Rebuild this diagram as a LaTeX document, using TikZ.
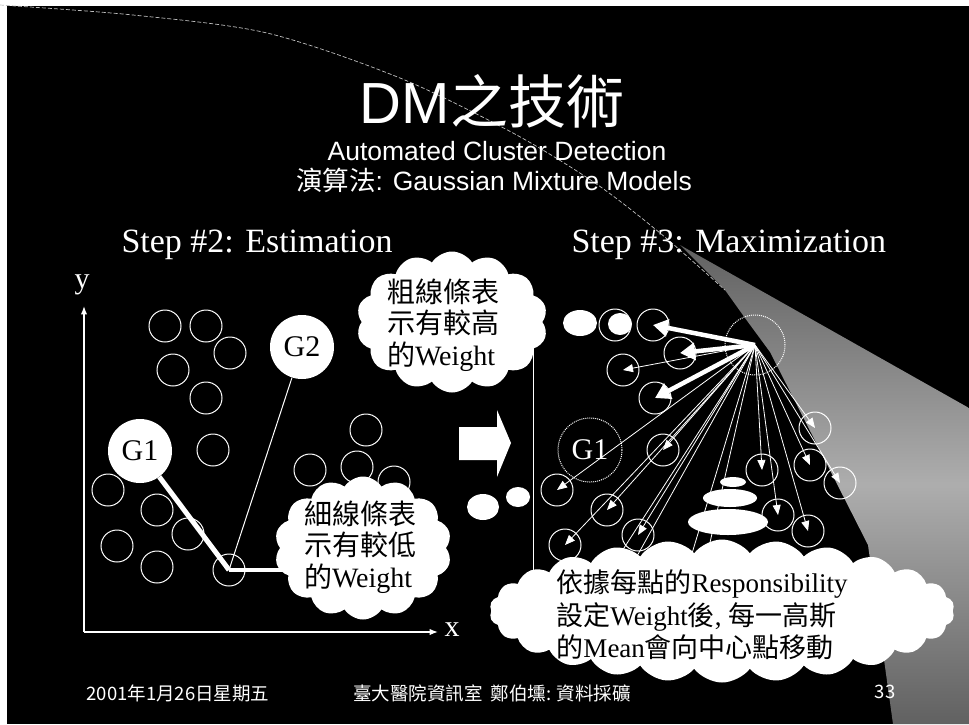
\documentclass[tikz,border=0pt]{standalone}
\usepackage{fontspec}
\setmainfont{Liberation Serif}
\newfontfamily\cjk{Noto Sans CJK TC}
\newfontfamily\arial{Liberation Sans}
\usetikzlibrary{arrows.meta,shapes.symbols}

\tikzset{
    datapt/.style={circle,draw=white,line width=1pt,minimum size=32pt,inner sep=0pt},
    gauss/.style={circle,fill=white,minimum size=64pt,inner sep=0pt,
        font=\fontsize{30}{30}\selectfont},
    bubble/.style={cloud,cloud puffs=14,cloud puff arc=115,cloud ignores aspect,
        fill=white,inner sep=0pt},
    bubbletext/.style={align=left,text=black,inner sep=0pt,
        font=\fontsize{28}{31.5}\selectfont},
    heavyarrow/.style={white,line width=4.5pt,-{Triangle[length=15pt,width=17pt]}},
    lightarrow/.style={white,line width=0.8pt,-{Triangle[length=10pt,width=8pt]}},
    footer/.style={white,font=\cjk\fontsize{18.5}{18.5}\selectfont}
}

\begin{document}
\begin{tikzpicture}[x=1pt,y=-1pt,>=Latex]

        % Slide frame
        \useasboundingbox (0,0) rectangle (969,724);
        \fill[white] (0,0) rectangle (969,724);
        \fill[black] (7,6) rectangle (969,724);

        % Light beam of the template
        \begin{scope}
            \clip (680,245) -- (969,408) -- (969,724) -- (893,724)
                -- (868,545) -- (770,352) -- (745,318) -- (725,290) -- cycle;
            \shade[top color=black!62,bottom color=black!62,middle color=black!32]
                (680,245) rectangle (969,724);
        \end{scope}
        \draw[black!25,line width=0.7pt,dash pattern=on 4pt off 2pt]
            plot[smooth] coordinates {(0,5) (133,15) (267,33) (400,78)
                (513,133) (595,183) (660,233) (725,290)};

        % Titles
        \node[white,anchor=base,font=\arial\fontsize{58}{58}\selectfont] (title)
            at (492,123) {DM{\cjk 之技術}};
        \node[white,anchor=base,font=\arial\fontsize{26.5}{26.5}\selectfont] (sub1)
            at (497,160) {Automated Cluster Detection};
        \node[white,anchor=base,font=\arial\fontsize{26.5}{26.5}\selectfont] (sub2)
            at (494,190) {{\cjk 演算法}: Gaussian Mixture Models};
        \node[white,anchor=base west,font=\fontsize{34}{34}\selectfont] (step2)
            at (118,252) {Step \#2: Estimation};
        \node[white,anchor=base west,font=\fontsize{34}{34}\selectfont] (step3)
            at (568,252) {Step \#3: Maximization};

        % Axes of the estimation plot
        \draw[white,line width=1.2pt,->] (84,632) -- (84,306);
        \draw[white,line width=1.2pt,->] (84,632) -- (438,632);
        \node[white,font=\fontsize{30}{30}\selectfont] (ylab) at (82,285) {y};
        \node[white,font=\fontsize{30}{30}\selectfont] (xlab) at (452,630) {x};

        % Data points (estimation)
        \foreach \x/\y [count=\i] in {165/326,206/326,230/353,173/370,206/398,
                213/450,108/490,157/510,188/534,117/546,157/567,310/470,
                366/430,357/467,394/482,229/570} {
            \node[datapt] (a\i) at (\x,\y) {};
        }

        % Gaussians
        \node[gauss] (g1) at (140,451) {G1};
        \node[gauss] (g2) at (302,347) {G2};

        % Weights of one point
        \draw[white,line width=5pt] (g1) -- (a16.center);
        \draw[white,line width=1pt] (g2) -- (a16.center);
        \draw[white,line width=4pt] (a16.center) -- (a16.center -| 362,0);

        % Axis of the maximization plot
        \draw[white,line width=1pt] (533,330) -- (533,640);

        % Block arrow
        \fill[white] (459,427) -- (497,427) -- (497,410) -- (511,443)
            -- (497,477) -- (497,460) -- (459,460) -- cycle;

        % Data points (maximization)
        \foreach \x/\y [count=\i] in {615/325,653/325,680/353,623/370,655/398,
                663/450,557/490,607/510,565/545,638/535,762/470,778/515,
                810/465,840/483,808/531,815/428} {
            \node[datapt] (b\i) at (\x,\y) {};
        }
        \node[circle,draw=white,densely dotted,line width=1pt,minimum size=60pt,
            inner sep=0pt] (g2r) at (755,345) {};
        \node[circle,draw=white,densely dotted,line width=1pt,minimum size=64pt,
            inner sep=0pt,white,font=\fontsize{30}{30}\selectfont] (g1r) at (590,450) {G1};

        % Responsibilities
        \foreach \i in {4,6,7,8,9,10,11,12,13,14,15,16} {
            \draw[lightarrow] (g2r.center) -- (b\i.center);
        }
        \foreach \i in {2,3,5} {
            \draw[heavyarrow] (g2r.center) -- (b\i.center);
        }
        \foreach \x/\y in {613/565,632/565,690/560,706/560} {
            \draw[white,line width=0.8pt] (g2r.center) -- (\x,\y);
        }

        % Moved means
        \fill[white] (580,323) ellipse (17 and 13);
        \fill[white] (620,324) ellipse (12 and 11);
        \fill[white] (483,507) ellipse (16 and 13);
        \fill[white] (518,497) ellipse (12 and 10);
        \fill[white] (733,482) ellipse (13 and 5);
        \fill[white] (730,498) ellipse (27 and 9);
        \fill[white] (728,522) ellipse (40 and 13);

        % Callouts
        \node[bubble,minimum width=191pt,minimum height=141pt] (heavy) at (452,322) {};
        \node[bubbletext] (heavytxt) at (443,325)
            {{\cjk 粗線條表}\\{\cjk 示有較高}\\{\cjk 的}Weight};
        \node[bubble,minimum width=177pt,minimum height=143pt] (light) at (363,548) {};
        \node[bubbletext] (lighttxt) at (360,547)
            {{\cjk 細線條表}\\{\cjk 示有較低}\\{\cjk 的}Weight};
        \node[bubble,cloud puffs=26,cloud puff arc=105,minimum width=465pt,
            minimum height=143pt] (resp) at (722,611) {};
        \node[bubbletext,font=\fontsize{27}{32.5}\selectfont] (resptxt) at (702,615)
            {{\cjk 依據每點的}Responsibility\\{\cjk 設定}Weight{\cjk 後}, {\cjk 每一高斯}\\{\cjk 的}Mean{\cjk 會向中心點移動}};

        % Footer
        \node[footer] (date) at (178,693) {2001年1月26日星期五};
        \node[footer] (dept) at (492,693) {臺大醫院資訊室\ \ 鄭伯壎: 資料採礦};
        \node[footer] (page) at (885,692) {33};

\end{tikzpicture}
\end{document}
